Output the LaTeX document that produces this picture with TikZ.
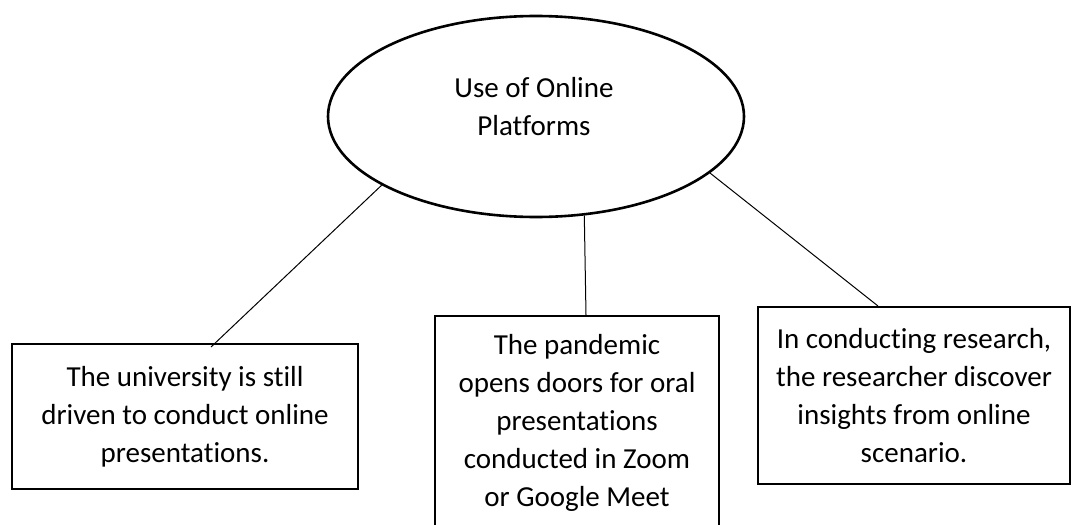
\documentclass[tikz,border=0pt]{standalone}
\usepackage{fontspec}
\setmainfont{Carlito}[Ligatures={NoCommon}]
\usetikzlibrary{shapes.geometric,calc}
\begin{document}
\begin{tikzpicture}[x=1pt,y=-1pt,
  txt/.style={font=\fontsize{29}{38}\selectfont, align=center, text=black},
  topic/.style={draw=black, line width=2.6pt, ellipse, inner sep=0pt},
  itembox/.style={draw=black, line width=2pt, rectangle, inner sep=0pt, txt},
  link/.style={draw=black, line width=1pt}]
\useasboundingbox (0,0) rectangle (1072,525);
\begin{scope}
\clip (0,0) rectangle (1072,525);

% central topic
\node[topic, minimum width=416pt, minimum height=201pt] (ell) at (536,116.5) {};
\node[txt] (title) at (534,107) {Use of Online\\Platforms};

% the three statements
\node[itembox, minimum width=346pt, minimum height=145pt] (lbox) at (185,416.5)
  {The university is still\\driven to conduct online\\presentations.};
\node[itembox, minimum width=284pt, minimum height=214pt] (mbox) at (577,423)
  {The pandemic\\opens doors for oral\\presentations\\conducted in Zoom\\or Google Meet};
\node[itembox, minimum width=312pt, minimum height=177pt] (rbox) at (914,395.5)
  {In conducting research,\\the researcher discover\\insights from online\\scenario.};

% connectors
\draw[link] (ell.204.6) -- ($(lbox.north)+(26,4)$);
\draw[link] (ell.296.2) -- ($(mbox.north)+(9,0)$);
\draw[link] (ell.342.8) -- ($(rbox.north)+(-36,0)$);
\end{scope}
\end{tikzpicture}
\end{document}
